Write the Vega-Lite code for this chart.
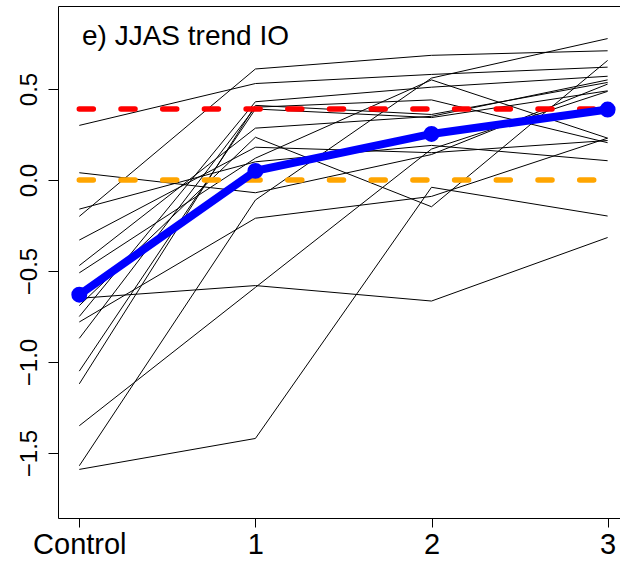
{
  "$schema": "https://vega.github.io/schema/vega-lite/v6.json",
  "width": 563,
  "height": 512,
  "autosize": {"type": "none"},
  "padding": {"left": 58, "top": 6, "right": -1, "bottom": 43},
  "background": "white",
  "config": {"view": {"stroke": "black", "strokeWidth": 1}, "font": "Liberation Sans"},
  "title": {"text": "e) JJAS trend IO", "anchor": "start", "frame": "group", "orient": "top", "baseline": "alphabetic", "offset": -37, "dx": 24, "dy": 30, "fontSize": 28, "fontWeight": "normal", "font": "Liberation Sans", "color": "black"},
  "datasets": {
    "models": [
      {"m": "m1", "x": 0, "y": -0.20}, {"m": "m1", "x": 1, "y": 0.61}, {"m": "m1", "x": 2, "y": 0.685}, {"m": "m1", "x": 3, "y": 0.71},
      {"m": "m2", "x": 0, "y": 0.30}, {"m": "m2", "x": 1, "y": 0.53}, {"m": "m2", "x": 2, "y": 0.58}, {"m": "m2", "x": 3, "y": 0.62},
      {"m": "m3", "x": 0, "y": -0.75}, {"m": "m3", "x": 1, "y": 0.43}, {"m": "m3", "x": 2, "y": 0.51}, {"m": "m3", "x": 3, "y": 0.57},
      {"m": "m4", "x": 0, "y": -0.87}, {"m": "m4", "x": 1, "y": 0.40}, {"m": "m4", "x": 2, "y": 0.44}, {"m": "m4", "x": 3, "y": 0.205},
      {"m": "m5", "x": 0, "y": -1.05}, {"m": "m5", "x": 1, "y": 0.39}, {"m": "m5", "x": 2, "y": 0.343}, {"m": "m5", "x": 3, "y": 0.49},
      {"m": "m6", "x": 0, "y": -1.12}, {"m": "m6", "x": 1, "y": 0.41}, {"m": "m6", "x": 2, "y": 0.36}, {"m": "m6", "x": 3, "y": 0.536},
      {"m": "m7", "x": 0, "y": -0.47}, {"m": "m7", "x": 1, "y": 0.285}, {"m": "m7", "x": 2, "y": 0.35}, {"m": "m7", "x": 3, "y": 0.55},
      {"m": "m8", "x": 0, "y": -0.69}, {"m": "m8", "x": 1, "y": 0.235}, {"m": "m8", "x": 2, "y": -0.147}, {"m": "m8", "x": 3, "y": 0.657},
      {"m": "m9", "x": 0, "y": -0.33}, {"m": "m9", "x": 1, "y": 0.18}, {"m": "m9", "x": 2, "y": 0.15}, {"m": "m9", "x": 3, "y": 0.217},
      {"m": "m10", "x": 0, "y": -0.51}, {"m": "m10", "x": 1, "y": 0.12}, {"m": "m10", "x": 2, "y": 0.55}, {"m": "m10", "x": 3, "y": 0.23},
      {"m": "m11", "x": 0, "y": -0.16}, {"m": "m11", "x": 1, "y": 0.10}, {"m": "m11", "x": 2, "y": 0.19}, {"m": "m11", "x": 3, "y": 0.106},
      {"m": "m12", "x": 0, "y": 0.04}, {"m": "m12", "x": 1, "y": -0.07}, {"m": "m12", "x": 2, "y": 0.14}, {"m": "m12", "x": 3, "y": 0.527},
      {"m": "m13", "x": 0, "y": -1.57}, {"m": "m13", "x": 1, "y": -0.11}, {"m": "m13", "x": 2, "y": 0.56}, {"m": "m13", "x": 3, "y": 0.777},
      {"m": "m14", "x": 0, "y": -0.65}, {"m": "m14", "x": 1, "y": -0.58}, {"m": "m14", "x": 2, "y": -0.665}, {"m": "m14", "x": 3, "y": -0.316},
      {"m": "m15", "x": 0, "y": -1.59}, {"m": "m15", "x": 1, "y": -1.42}, {"m": "m15", "x": 2, "y": -0.04}, {"m": "m15", "x": 3, "y": -0.198},
      {"m": "m16", "x": 0, "y": -1.35}, {"m": "m16", "x": 1, "y": -0.59}, {"m": "m16", "x": 2, "y": 0.17}, {"m": "m16", "x": 3, "y": 0.487},
      {"m": "m17", "x": 0, "y": -0.78}, {"m": "m17", "x": 1, "y": -0.21}, {"m": "m17", "x": 2, "y": -0.09}, {"m": "m17", "x": 3, "y": 0.23}
    ],
    "mean": [
      {"x": 0, "y": -0.63}, {"x": 1, "y": 0.05}, {"x": 2, "y": 0.253}, {"x": 3, "y": 0.387}
    ],
    "zero": [{"x": 0, "y": 0}, {"x": 3, "y": 0}],
    "ref": [{"x": 0, "y": 0.39}, {"x": 3, "y": 0.39}]
  },
  "layer": [
    {
      "data": {"name": "models"},
      "mark": {"type": "line", "color": "black", "strokeWidth": 1},
      "encoding": {
        "x": {"field": "x", "type": "quantitative",
          "scale": {"domain": [-0.121, 3.076], "nice": false, "zero": false},
          "axis": {"values": [0, 1, 2, 3], "labelExpr": "datum.value == 0 ? 'Control' : datum.label", "format": "d",
            "labelFontSize": 29, "labelColor": "black", "labelFont": "Liberation Sans", "tickSize": 9, "tickColor": "black", "tickWidth": 1,
            "domain": false, "grid": false, "title": null, "labelPadding": 26.6, "labelBaseline": "alphabetic", "labelFlush": false, "labelOverlap": false}},
        "y": {"field": "y", "type": "quantitative",
          "scale": {"domain": [-1.857, 0.956], "nice": false, "zero": false},
          "axis": {"values": [-1.5, -1, -0.5, 0, 0.5], "format": ".1f", "labelAngle": -90, "labelAlign": "center", "labelBaseline": "alphabetic",
            "labelPadding": 12, "tickSize": 10, "tickColor": "black", "tickWidth": 1, "labelFontSize": 24, "labelColor": "black", "labelFont": "Liberation Sans",
            "domain": false, "grid": false, "title": null, "labelFlush": false, "labelOverlap": false}},
        "detail": {"field": "m", "type": "nominal"}
      }
    },
    {
      "data": {"name": "zero"},
      "mark": {"type": "line", "color": "#FFA500", "strokeWidth": 5.5, "strokeDash": [14, 27.7], "strokeCap": "round"},
      "encoding": {"x": {"field": "x", "type": "quantitative"}, "y": {"field": "y", "type": "quantitative"}}
    },
    {
      "data": {"name": "ref"},
      "mark": {"type": "line", "color": "#FF0000", "strokeWidth": 5.5, "strokeDash": [14, 27.7], "strokeCap": "round"},
      "encoding": {"x": {"field": "x", "type": "quantitative"}, "y": {"field": "y", "type": "quantitative"}}
    },
    {
      "data": {"name": "mean"},
      "mark": {"type": "line", "color": "#0000FF", "strokeWidth": 8},
      "encoding": {"x": {"field": "x", "type": "quantitative"}, "y": {"field": "y", "type": "quantitative"}}
    },
    {
      "data": {"name": "mean"},
      "mark": {"type": "circle", "color": "#0000FF", "size": 254, "opacity": 1},
      "encoding": {"x": {"field": "x", "type": "quantitative"}, "y": {"field": "y", "type": "quantitative"}}
    }
  ]
}
